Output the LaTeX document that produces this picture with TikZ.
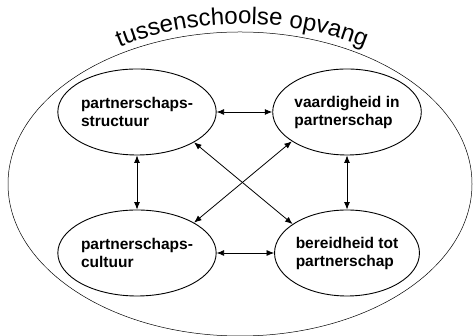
\documentclass[tikz,border=0pt]{standalone}
\usepackage{fontspec}
\setmainfont{Liberation Sans}
\usetikzlibrary{positioning}
\usetikzlibrary{shapes}
\usetikzlibrary{arrows.meta}
\usetikzlibrary{decorations.text}

\tikzset{
	factor/.style={draw, ellipse, line width=0.9pt, minimum width=140pt, minimum height=86pt, inner sep=0pt, align=left, font=\fontsize{15.5}{18}\selectfont\bfseries},
	link/.style={line width=0.8pt, {Latex[length=7.5pt,width=6pt]}-{Latex[length=7.5pt,width=6pt]}}
}

\begin{document}
\begin{tikzpicture}[x=1pt, y=1pt]
			\useasboundingbox (0,0) rectangle (473,336);
			\draw[line width=0.5pt] (240,152) ellipse [x radius=232, y radius=152];
			% title along the top of the outer ellipse
			\path[decorate, decoration={text along path, text align=center, text={|\fontsize{24}{28}\selectfont|tussenschoolse opvang}}]
				(242,152) ++(150:236 and 160) arc [start angle=150, end angle=30, x radius=236, y radius=160];

			\node[factor] (struct) at (137,224) {partnerschaps-\\structuur};
			\node[factor] (vaard) at (347,224) {vaardigheid in\\partnerschap};
			\node[factor] (cult) at (137,83) {partnerschaps-\\cultuur};
			\node[factor] (bereid) at (347,83) {bereidheid tot\\partnerschap};

			\draw[link] (struct) -- (vaard);
			\draw[link] (cult) -- (bereid);
			\draw[link] (struct) -- (cult);
			\draw[link] (vaard) -- (bereid);
			\draw[link] (struct.-28) -- (bereid.152);
			\draw[link] (vaard.208) -- (cult.28);
        \end{tikzpicture}
\end{document}
